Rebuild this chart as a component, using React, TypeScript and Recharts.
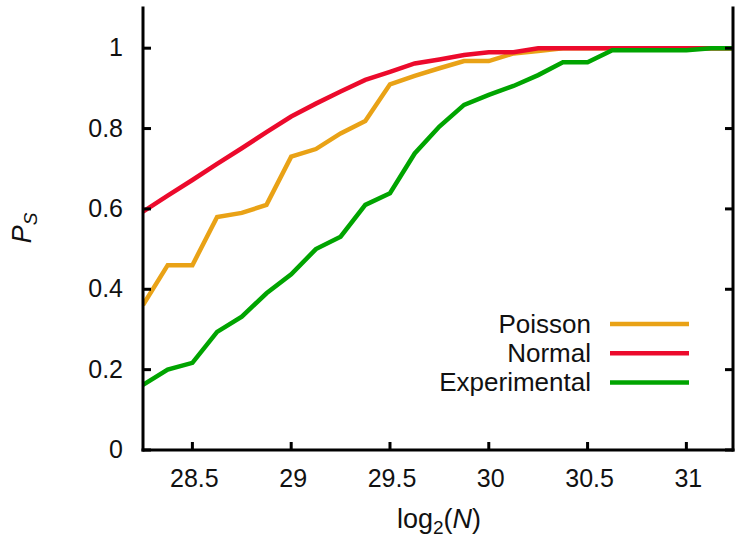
import React from 'react';
import { LineChart, Line, XAxis, YAxis, Legend } from 'recharts';

const logN = [28.25, 28.375, 28.5, 28.625, 28.75, 28.875, 29, 29.125, 29.25, 29.375, 29.5, 29.625, 29.75, 29.875, 30, 30.125, 30.25, 30.375, 30.5, 30.625, 30.75, 30.875, 31, 31.125, 31.25];
const poisson = [0.361, 0.46, 0.46, 0.58, 0.59, 0.61, 0.73, 0.749, 0.788, 0.819, 0.91, 0.931, 0.95, 0.968, 0.968, 0.987, 0.993, 1, 1, 1, 1, 1, 1, 1, 1];
const normal = [0.593, 0.633, 0.672, 0.712, 0.751, 0.791, 0.83, 0.862, 0.892, 0.921, 0.941, 0.962, 0.972, 0.983, 0.99, 0.99, 1, 1, 1, 1, 1, 1, 1, 1, 1];
const experimental = [0.162, 0.2, 0.217, 0.294, 0.332, 0.39, 0.437, 0.5, 0.531, 0.61, 0.639, 0.738, 0.805, 0.859, 0.884, 0.906, 0.933, 0.965, 0.965, 0.995, 0.995, 0.995, 0.995, 1, 1];

const xTicks = [28.5, 29, 29.5, 30, 30.5, 31];
const yTicks = [0, 0.2, 0.4, 0.6, 0.8, 1];
const seriesNames = ['Poisson', 'Normal', 'Experimental'];
const seriesColors = ['#e9a216', '#ec0a2c', '#00a400'];

const data = logN.map((x, i) => ({
  x,
  poisson: poisson[i],
  normal: normal[i],
  experimental: experimental[i],
}));

const FONT = '"Liberation Sans", Arial, sans-serif';

const BottomTick = (props: any) => {
  const { x, y, payload } = props;
  return (
    <g>
      <line x1={x} x2={x} y1={y} y2={y - 8} stroke="#000" strokeWidth={3} />
      <text x={x + 2} y={y + 37} textAnchor="middle" fontSize={25} fontFamily={FONT} fill="#111">
        {String(payload.value)}
      </text>
    </g>
  );
};

const TopTick = (props: any) => {
  const { x, y } = props;
  return <line x1={x} x2={x} y1={y} y2={y + 8} stroke="#000" strokeWidth={3} />;
};

const LeftTick = (props: any) => {
  const { x, y, payload } = props;
  return (
    <g>
      <line x1={x} x2={x + 8} y1={y} y2={y} stroke="#000" strokeWidth={3} />
      <text x={x - 20} y={y + 8} textAnchor="end" fontSize={25} fontFamily={FONT} fill="#111">
        {String(payload.value)}
      </text>
    </g>
  );
};

const RightTick = (props: any) => {
  const { x, y } = props;
  return <line x1={x} x2={x - 8} y1={y} y2={y} stroke="#000" strokeWidth={3} />;
};

const renderLegend = () => (
  <svg width={735} height={539} style={{ position: 'absolute', left: 0, top: 0 }}>
    {seriesNames.map((name, i) => (
      <g key={name}>
        <text x={591} y={333 + i * 29} textAnchor="end" fontSize={26} fontFamily={FONT} fill="#111">
          {name}
        </text>
        <line x1={610} x2={689} y1={324 + i * 29.3} y2={324 + i * 29.3} stroke={seriesColors[i]} strokeWidth={4.5} />
      </g>
    ))}
    <text x={439} y={528} textAnchor="middle" fontSize={27} fontFamily={FONT} fill="#111">
      log<tspan fontSize={19} dy={6}>2</tspan><tspan dy={-6}>(</tspan><tspan fontStyle="italic">N</tspan>)
    </text>
    <text
      x={31}
      y={228}
      transform="rotate(-90, 31, 228)"
      textAnchor="middle"
      fontSize={27}
      fontFamily={FONT}
      fill="#111"
    >
      <tspan fontStyle="italic">P</tspan>
      <tspan fontStyle="italic" fontSize={19} dy={6}>S</tspan>
    </text>
  </svg>
);

export default function App() {
  return (
    <div style={{ position: 'absolute', left: 0, top: 0, width: 735, height: 539, background: '#fff' }}>
      <LineChart width={735} height={539} data={data} margin={{ top: 8, right: 0, bottom: 0, left: 0 }}>
        <XAxis
          xAxisId="bottom"
          dataKey="x"
          type="number"
          domain={[28.25, 31.236]}
          allowDataOverflow
          ticks={xTicks}
          height={89}
          tickSize={0}
          tickMargin={0}
          tickLine={false}
          tick={<BottomTick />}
          axisLine={{ stroke: '#000', strokeWidth: 3, strokeLinecap: 'square' }}
          interval={0}
        />
        <XAxis
          xAxisId="top"
          orientation="top"
          dataKey="x"
          type="number"
          domain={[28.25, 31.236]}
          allowDataOverflow
          ticks={xTicks}
          height={0}
          tickSize={0}
          tickMargin={0}
          tickLine={false}
          tick={<TopTick />}
          axisLine={{ stroke: '#000', strokeWidth: 3, strokeLinecap: 'square' }}
          interval={0}
        />
        <YAxis
          yAxisId="left"
          type="number"
          domain={[0, 1.1]}
          allowDataOverflow
          ticks={yTicks}
          width={143}
          tickSize={0}
          tickMargin={0}
          tickLine={false}
          tick={<LeftTick />}
          axisLine={{ stroke: '#000', strokeWidth: 3, strokeLinecap: 'square' }}
          interval={0}
        />
        <YAxis
          yAxisId="right"
          orientation="right"
          type="number"
          domain={[0, 1.1]}
          allowDataOverflow
          ticks={yTicks}
          width={2}
          tickSize={0}
          tickMargin={0}
          tickLine={false}
          tick={<RightTick />}
          axisLine={{ stroke: '#000', strokeWidth: 3, strokeLinecap: 'square' }}
          interval={0}
        />
        <Line xAxisId="bottom" yAxisId="left" dataKey="poisson" name="Poisson" stroke={seriesColors[0]} strokeWidth={4.5} dot={false} isAnimationActive={false} strokeLinejoin="miter" />
        <Line xAxisId="bottom" yAxisId="left" dataKey="normal" name="Normal" stroke={seriesColors[1]} strokeWidth={4.5} dot={false} isAnimationActive={false} strokeLinejoin="miter" />
        <Line xAxisId="bottom" yAxisId="left" dataKey="experimental" name="Experimental" stroke={seriesColors[2]} strokeWidth={4.5} dot={false} isAnimationActive={false} strokeLinejoin="miter" />
        <Legend
          layout="vertical"
          align="center"
          verticalAlign="middle"
          content={renderLegend}
          wrapperStyle={{ position: 'absolute', left: 0, top: 0, width: 735, height: 539, pointerEvents: 'none' }}
        />
      </LineChart>
    </div>
  );
}
